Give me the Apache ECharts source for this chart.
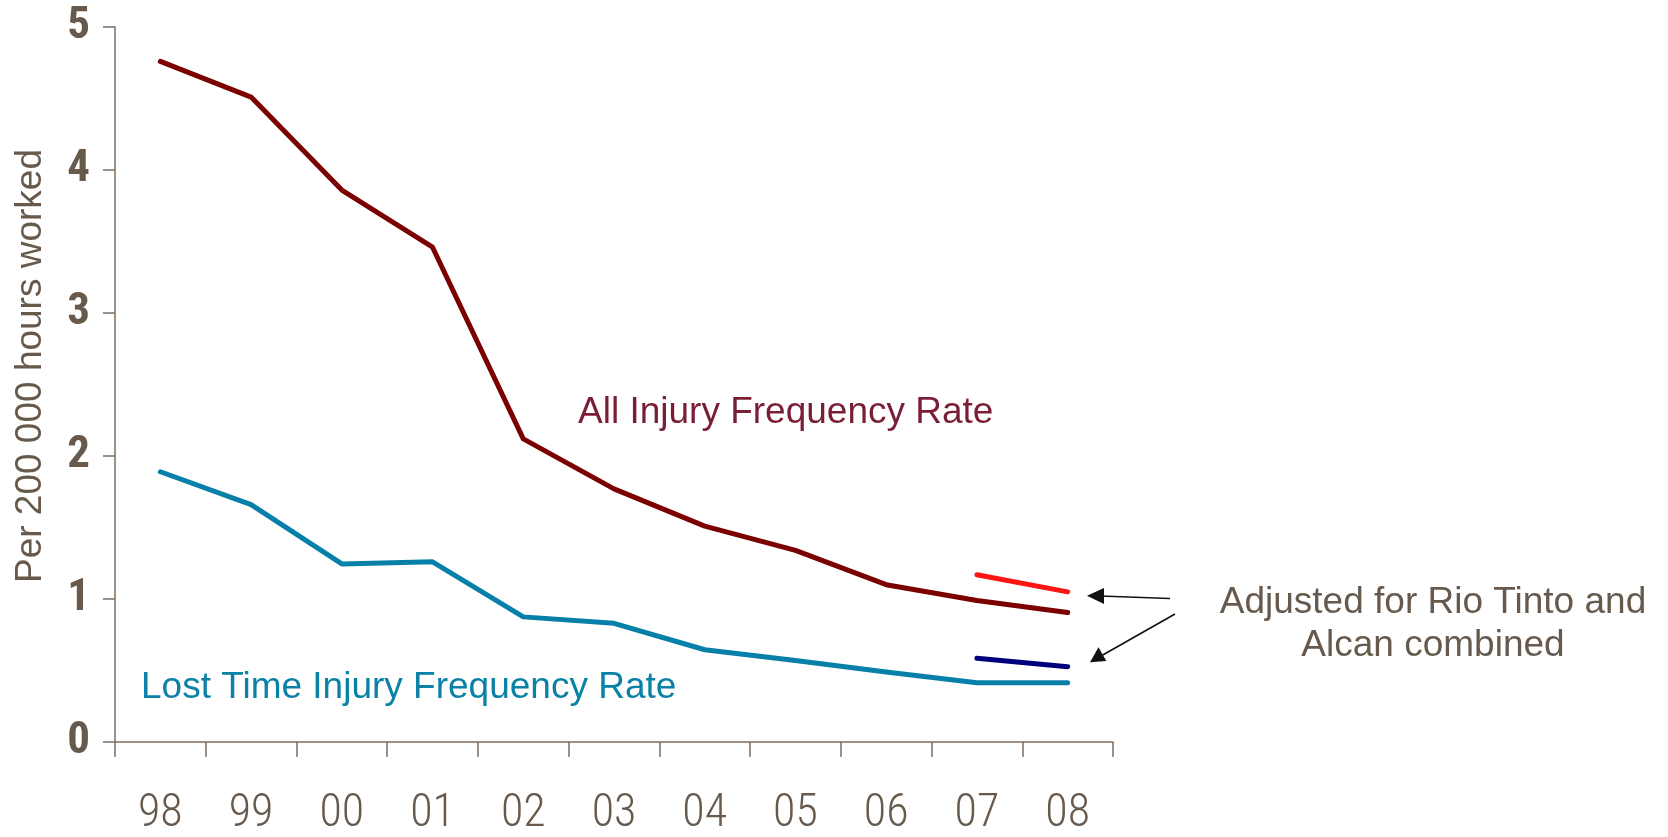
<!DOCTYPE html>
<html>
<head>
<meta charset="utf-8">
<script src="https://cdn.jsdelivr.net/npm/echarts@6/dist/echarts.min.js"></script>
<style>
  html, body { margin: 0; padding: 0; background: #ffffff; }
  #chart { width: 1668px; height: 837px; }
</style>
</head>
<body>
<div id="chart"></div>
<script>
// ---- data ----
var years = ['98', '99', '00', '01', '02', '03', '04', '05', '06', '07', '08'];
var allInjuryRate = [4.76, 4.51, 3.86, 3.46, 2.12, 1.77, 1.51, 1.34, 1.10, 0.99, 0.905];
var lostTimeRate = [1.89, 1.66, 1.245, 1.26, 0.875, 0.83, 0.645, 0.57, 0.49, 0.415, 0.415];
var allInjuryAdjusted = [null, null, null, null, null, null, null, null, null, 1.17, 1.05];
var lostTimeAdjusted = [null, null, null, null, null, null, null, null, null, 0.585, 0.527];
var yTicks = [0, 1, 2, 3, 4, 5];

var textColor = '#675a4d';
var axisColor = '#7d6e60';
var condensed = '"Roboto Condensed", "DejaVu Sans Condensed", "Liberation Sans", sans-serif';

var chart = echarts.init(document.getElementById('chart'), null, { renderer: 'canvas' });

function lineSeries(name, data, color) {
  return {
    name: name,
    type: 'line',
    data: data,
    symbol: 'none',
    showSymbol: false,
    connectNulls: false,
    lineStyle: { color: color, width: 5, cap: 'round', join: 'round' },
    emphasis: { disabled: true },
    z: 3
  };
}

var option = {
  animation: false,
  backgroundColor: '#ffffff',
  grid: { left: 115, right: 555, top: 27, bottom: 94, containLabel: false },
  xAxis: {
    type: 'category',
    data: years,
    boundaryGap: true,
    axisLine: { show: true, lineStyle: { color: axisColor, width: 1.5 } },
    axisTick: { show: true, length: 15, lineStyle: { color: axisColor, width: 1.5 } },
    axisLabel: {
      color: textColor,
      fontFamily: condensed,
      fontWeight: 300,
      fontSize: 46,
      margin: 49
    },
    splitLine: { show: false }
  },
  yAxis: {
    type: 'value',
    min: yTicks[0],
    max: yTicks[yTicks.length - 1],
    interval: 1,
    axisLine: { show: true, lineStyle: { color: axisColor, width: 1.5 } },
    axisTick: { show: true, length: 12, lineStyle: { color: axisColor, width: 1.5 } },
    axisLabel: {
      color: textColor,
      fontFamily: condensed,
      fontWeight: 'bold',
      fontSize: 45,
      margin: 25
    },
    splitLine: { show: false }
  },
  series: [
    lineSeries('All Injury Frequency Rate', allInjuryRate, '#7b0000'),
    lineSeries('Lost Time Injury Frequency Rate', lostTimeRate, '#0680a8'),
    lineSeries('All Injury Frequency Rate (adjusted)', allInjuryAdjusted, '#ff1414'),
    lineSeries('Lost Time Injury Frequency Rate (adjusted)', lostTimeAdjusted, '#00007f')
  ],
  graphic: [
    {
      type: 'text',
      x: 31, y: 366,
      rotation: Math.PI / 2,
      style: {
        text: 'Per 200 000 hours worked',
        fill: textColor,
        font: '37px "Liberation Sans"',
        textAlign: 'center',
        textVerticalAlign: 'middle'
      }
    },
    {
      type: 'text',
      x: 578, y: 413,
      style: {
        text: 'All Injury Frequency Rate',
        fill: '#7a1e35',
        font: '37px "Liberation Sans"',
        textAlign: 'left',
        textVerticalAlign: 'middle'
      }
    },
    {
      type: 'text',
      x: 141, y: 688,
      style: {
        text: 'Lost Time Injury Frequency Rate',
        fill: '#0a82a8',
        font: '37px "Liberation Sans"',
        textAlign: 'left',
        textVerticalAlign: 'middle'
      }
    },
    {
      type: 'text',
      x: 1433, y: 624,
      style: {
        text: 'Adjusted for Rio Tinto and\nAlcan combined',
        fill: textColor,
        font: '37px "Liberation Sans"',
        lineHeight: 43,
        textAlign: 'center',
        textVerticalAlign: 'middle'
      }
    },
    // arrow 1
    {
      type: 'line',
      shape: { x1: 1170, y1: 598.5, x2: 1100, y2: 596 },
      style: { stroke: '#111111', lineWidth: 1.6 }
    },
    {
      type: 'polygon',
      shape: { points: [[1087, 595.7], [1104, 588], [1104, 604]] },
      style: { fill: '#111111' }
    },
    // arrow 2
    {
      type: 'line',
      shape: { x1: 1175, y1: 614, x2: 1101, y2: 656 },
      style: { stroke: '#111111', lineWidth: 1.6 }
    },
    {
      type: 'polygon',
      shape: { points: [[1090, 662.3], [1098.5, 647.2], [1106.3, 661]] },
      style: { fill: '#111111' }
    }
  ]
};

chart.setOption(option);
</script>
</body>
</html>
